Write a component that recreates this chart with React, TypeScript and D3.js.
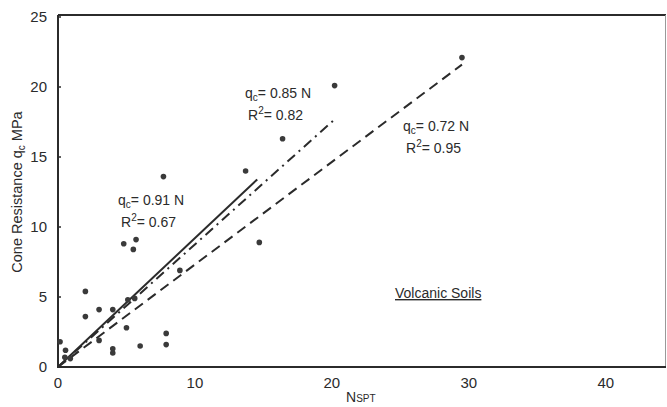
import React from "react";
import * as d3 from "d3";

// N_SPT vs cone resistance, volcanic soils
const nSpt = [0.15, 0.55, 0.5, 0.9, 2.0, 2.0, 3.0, 4.0, 3.0, 4.0, 4.0, 5.0, 6.0, 7.9, 7.9, 4.8, 5.5, 5.7, 5.1, 5.6, 8.9, 14.7, 7.7, 13.7, 16.4, 20.2, 29.5];
const qcMPa = [1.8, 1.2, 0.7, 0.6, 5.4, 3.6, 4.1, 4.1, 1.9, 1.0, 1.3, 2.8, 1.5, 2.4, 1.6, 8.8, 8.4, 9.1, 4.8, 4.9, 6.9, 8.9, 13.6, 14.0, 16.3, 20.1, 22.1];

// regression lines: start / end points
const fitNEnd = [14.55, 20.1, 29.5];
const fitQEnd = [13.4, 17.6, 21.6];
const fitCoef = ["0.91", "0.85", "0.72"];
const fitR2 = ["0.67", "0.82", "0.95"];
const fitDash = ["none", "10,5,2,5", "10,6"];
const labelPos = [
  [118, 205],
  [245, 98],
  [403, 131],
];

const xTicks = [0, 10, 20, 30, 40];
const yTicks = [0, 5, 10, 15, 20, 25];

export default function App() {
  const width = 667;
  const height = 407;

  const x = d3.scaleLinear().domain([0, 44.4]).range([58, 666]);
  const y = d3.scaleLinear().domain([0, 25]).range([367, 17]);

  const line = d3
    .line<[number, number]>()
    .x((d) => x(d[0]))
    .y((d) => y(d[1]));

  const ink = "#2b2b2b";
  const font = "Arial, 'Liberation Sans', Helvetica, sans-serif";

  return (
    <svg
      width={width}
      height={height}
      style={{ position: "absolute", left: 0, top: 0, background: "#fff" }}
      fontFamily={font}
    >
      {/* frame */}
      <line x1={x(0)} x2={666} y1={15} y2={15} stroke={ink} strokeWidth={2} />
      <line x1={665.5} x2={665.5} y1={15} y2={y(0)} stroke="#999" strokeWidth={1} />
      <line x1={x(0)} x2={x(0)} y1={15} y2={y(0)} stroke={ink} strokeWidth={2} />
      <line x1={x(0) - 1} x2={666} y1={y(0)} y2={y(0)} stroke={ink} strokeWidth={2} />

      {/* y axis */}
      {yTicks.map((t) => (
        <g key={"y" + t}>
          <line x1={x(0)} x2={x(0) + 3} y1={y(t)} y2={y(t)} stroke={ink} strokeWidth={1.5} />
          <text x={47} y={y(t)} dy="0.36em" textAnchor="end" fontSize={15} fill={ink}>
            {t}
          </text>
        </g>
      ))}

      {/* x axis */}
      {xTicks.map((t) => (
        <text key={"x" + t} x={x(t)} y={388} textAnchor="middle" fontSize={15} fill={ink}>
          {t}
        </text>
      ))}

      <text x={346} y={402} fontSize={14} fill={ink}>
        N<tspan fontSize={10}>SPT</tspan>
      </text>

      <text
        transform={`translate(22, 192) rotate(-90)`}
        textAnchor="middle"
        fontSize={14.5}
        fill={ink}
      >
        Cone Resistance q<tspan fontSize={10} dy={3}>c</tspan>
        <tspan dy={-3}> MPa</tspan>
      </text>

      {/* fit lines */}
      {fitNEnd.map((n, i) => (
        <path
          key={"fit" + i}
          d={line([
            [0, 0],
            [n, fitQEnd[i]],
          ])!}
          fill="none"
          stroke={ink}
          strokeWidth={2}
          strokeDasharray={fitDash[i]}
        />
      ))}

      {/* points */}
      {nSpt.map((n, i) => (
        <circle key={"p" + i} cx={x(n)} cy={y(qcMPa[i])} r={2.8} fill="#3a3a3a" />
      ))}

      {/* labels */}
      {fitCoef.map((c, i) => (
        <g key={"lab" + i} fill={ink} fontSize={14}>
          <text x={labelPos[i][0]} y={labelPos[i][1]}>
            q<tspan fontSize={10} dy={3}>c</tspan>
            <tspan dy={-3}>= {c} N</tspan>
          </text>
          <text x={labelPos[i][0] + 3} y={labelPos[i][1] + 22}>
            R<tspan fontSize={10} dy={-6}>2</tspan>
            <tspan dy={6}>= {fitR2[i]}</tspan>
          </text>
        </g>
      ))}

      <text x={395} y={298} fontSize={14} fill={ink} textDecoration="underline">
        Volcanic Soils
      </text>
    </svg>
  );
}
